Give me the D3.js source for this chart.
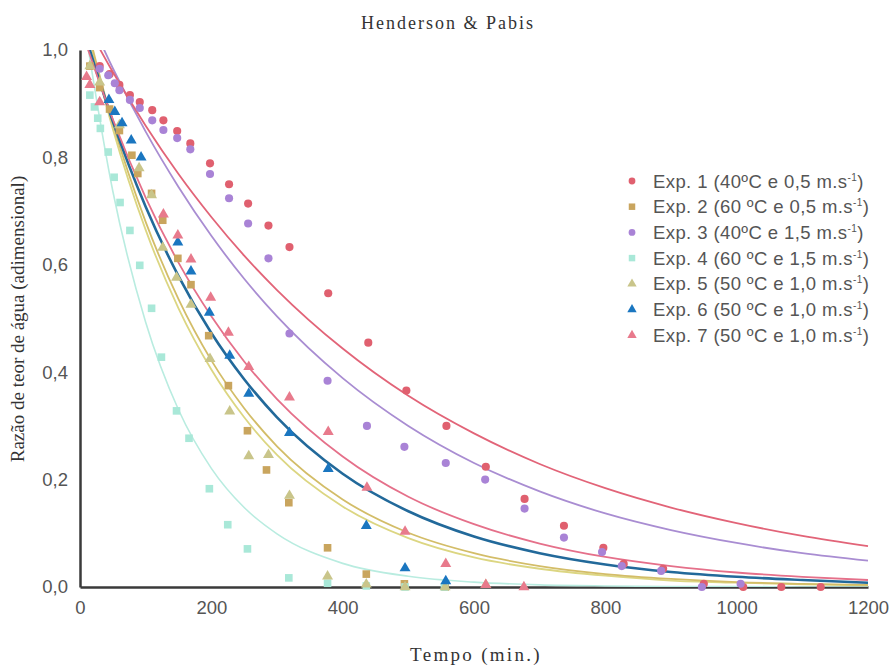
<!DOCTYPE html>
<html><head><meta charset="utf-8">
<script src="https://cdn.jsdelivr.net/npm/d3@7"></script>
<style>body{margin:0;background:#fff}</style>
</head><body>
<svg id="chart" width="895" height="667"></svg>
<script>
// ---------- data ----------
const seriesNames = ["Exp. 1", "Exp. 2", "Exp. 3", "Exp. 4", "Exp. 5", "Exp. 6", "Exp. 7"];
const legendLabels = [
  ["Exp. 1 (40ºC e 0,5 m.s", ")"],
  ["Exp. 2 (60 ºC e 0,5 m.s", ")"],
  ["Exp. 3 (40ºC e 1,5 m.s", ")"],
  ["Exp. 4 (60 ºC e 1,5 m.s", ")"],
  ["Exp. 5 (50 ºC e 1,0 m.s", ")"],
  ["Exp. 6 (50 ºC e 1,0 m.s", ")"],
  ["Exp. 7 (50 ºC e 1,0 m.s", ")"]
];
const xTicks = [0, 200, 400, 600, 800, 1000, 1200];
const yTicks = [0, 0.2, 0.4, 0.6, 0.8, 1.0];

// observed points (time in min, moisture ratio)
const exp1T = [30,45,60,76,91,110,127,148,168,198,227,256,287,319,378,439,497,558,618,677,737,797,828,888,950,1010,1068,1128];
const exp1V = [0.97,0.955,0.935,0.916,0.903,0.888,0.869,0.849,0.826,0.789,0.75,0.714,0.673,0.633,0.547,0.455,0.366,0.30,0.224,0.164,0.114,0.073,0.043,0.034,0.006,0.0,0.0,0.0];
const exp2T = [15,30,45,60,79,88,109,126,149,169,196,226,255,284,318,377,436,494,556];
const exp2V = [0.97,0.93,0.89,0.85,0.804,0.77,0.733,0.683,0.612,0.563,0.468,0.375,0.291,0.218,0.157,0.073,0.024,0.006,0.0];
const exp3T = [30,43,53,60,76,91,110,127,148,168,198,227,256,287,319,377,437,494,557,617,677,737,795,825,885,947,1006];
const exp3V = [0.965,0.953,0.938,0.925,0.907,0.892,0.869,0.851,0.836,0.815,0.769,0.724,0.677,0.612,0.472,0.384,0.30,0.261,0.231,0.20,0.146,0.092,0.065,0.039,0.03,0.0,0.006];
const exp4T = [15,22,27,31,43,52,61,76,91,109,124,147,166,197,225,255,318,377,436,495,555];
const exp4V = [0.916,0.894,0.873,0.854,0.81,0.763,0.716,0.664,0.599,0.519,0.428,0.328,0.277,0.183,0.116,0.071,0.017,0.007,0.002,0.0,0.0];
const exp5T = [15,30,60,90,109,126,147,169,198,228,257,287,319,377,436,495,556,618];
const exp5V = [0.97,0.94,0.86,0.78,0.73,0.632,0.576,0.526,0.425,0.327,0.244,0.246,0.17,0.02,0.005,0.0,0.0,0.004];
const exp6T = [44,53,64,78,93,149,169,197,228,257,319,378,436,495,557];
const exp6V = [0.907,0.885,0.864,0.832,0.80,0.642,0.588,0.511,0.431,0.36,0.287,0.22,0.114,0.035,0.011];
const exp7T = [10,15,30,127,149,169,199,226,257,319,378,437,495,557,618,676];
const exp7V = [0.95,0.935,0.903,0.694,0.655,0.61,0.539,0.474,0.41,0.353,0.289,0.185,0.103,0.043,0.004,0.0];

// fitted (Henderson & Pabis) curves
const curveT  = [0,50,100,150,200,250,300,400,500,600,700,800,900,1000,1100,1200];
const fit1V = [1.07,0.959,0.859,0.769,0.689,0.617,0.553,0.444,0.356,0.286,0.229,0.184,0.148,0.119,0.095,0.076];
const fit2V = [1.096,0.863,0.680,0.536,0.422,0.333,0.262,0.163,0.101,0.063,0.039,0.024,0.015,0.009,0.006,0.004];
const fit3V = [1.10,0.966,0.848,0.745,0.654,0.574,0.504,0.389,0.300,0.231,0.178,0.137,0.106,0.082,0.063,0.049];
const fit4V = [1.10,0.737,0.493,0.330,0.221,0.148,0.099,0.044,0.020,0.009,0.004,0.002,0.001,0.001,0.0,0.0];
const fit5V = [1.093,0.853,0.665,0.519,0.405,0.316,0.246,0.150,0.091,0.055,0.034,0.021,0.012,0.008,0.005,0.003];
const fit6V = [1.06,0.867,0.708,0.579,0.473,0.387,0.316,0.211,0.141,0.094,0.063,0.042,0.028,0.019,0.013,0.008];
const fit7V = [1.045,0.871,0.725,0.604,0.504,0.420,0.350,0.243,0.168,0.117,0.081,0.056,0.039,0.027,0.019,0.013];

// ---------- styles ----------
const markerColors = ["#e0606f", "#c9a55e", "#a983d6", "#a9e8d8", "#c9c58a", "#1a76c0", "#e87a8c"];
const lineColors   = ["#e26478", "#d3bd68", "#a98dd2", "#b9ece0", "#dcd682", "#22699a", "#e5708a"];
const lineWidths   = [1.8, 1.8, 1.8, 1.6, 1.8, 2.6, 1.8];
const shapes = ["circle", "square", "circle", "square", "triangle", "triangle", "triangle"];

const obsT = [exp1T, exp2T, exp3T, exp4T, exp5T, exp6T, exp7T];
const obsV = [exp1V, exp2V, exp3V, exp4V, exp5V, exp6V, exp7V];
const fitV = [fit1V, fit2V, fit3V, fit4V, fit5V, fit6V, fit7V];

const SERIF = "'Liberation Serif', 'Times New Roman', serif";
const SANS = "'Liberation Sans', Arial, sans-serif";

const svg = d3.select("#chart");
const L = 80, R = 868, T = 50, B = 587;
const x = d3.scaleLinear().domain([0, 1200]).range([L, R]);
const y = d3.scaleLinear().domain([0, 1]).range([B, T]);

svg.append("rect").attr("width", 895).attr("height", 667).attr("fill", "#fff");

svg.append("defs").append("clipPath").attr("id", "clip")
  .append("rect").attr("x", L).attr("y", T).attr("width", R - L + 2).attr("height", B - T);

// title
svg.append("text").attr("x", 448).attr("y", 29).attr("text-anchor", "middle")
  .attr("font-family", SERIF).attr("font-size", 18).attr("letter-spacing", 2)
  .attr("fill", "#333").text("Henderson & Pabis");

// axes
const fmt = d => d3.format(".1f")(d).replace(".", ",");
const yAxis = d3.axisLeft(y).tickValues(yTicks).tickFormat(fmt).tickSize(0).tickPadding(12);
const xAxis = d3.axisBottom(x).tickValues(xTicks).tickFormat(d3.format("d")).tickSize(0).tickPadding(14);

const gy = svg.append("g").attr("transform", `translate(${L},0)`).call(yAxis);
const gx = svg.append("g").attr("transform", `translate(0,${B})`).call(xAxis);
[gx, gy].forEach(g => {
  g.select(".domain").attr("stroke", "#3a3a3a").attr("stroke-width", 2.5);
  g.selectAll("text").attr("font-family", SANS)
    .attr("font-size", 18.5).attr("fill", "#555");
});

// axis titles
svg.append("text").attr("transform", "translate(24,319) rotate(-90)").attr("text-anchor", "middle")
  .attr("font-family", SERIF).attr("font-size", 19)
  .attr("fill", "#333").text("Razão de teor de água (adimensional)");
svg.append("text").attr("x", 476).attr("y", 661).attr("text-anchor", "middle")
  .attr("font-family", SERIF).attr("font-size", 19).attr("letter-spacing", 2.3)
  .attr("fill", "#333").text("Tempo (min.)");

// fitted curves
const line = d3.line().x(d => x(d[0])).y(d => y(d[1])).curve(d3.curveMonotoneX);
const curvesG = svg.append("g").attr("clip-path", "url(#clip)");
const drawOrder = [3, 4, 1, 5, 6, 2, 0];
drawOrder.forEach(i => {
  const pts = curveT.map((t, j) => [t, fitV[i][j]]);
  curvesG.append("path").datum(pts).attr("d", line).attr("fill", "none")
    .attr("stroke", lineColors[i]).attr("stroke-width", lineWidths[i]);
});

// markers
const sym = {
  circle: d3.symbol().type(d3.symbolCircle).size(52),
  square: d3.symbol().type(d3.symbolSquare).size(58),
  triangle: d3.symbol().type(d3.symbolTriangle).size(52)
};
const pointsG = svg.append("g");
[0, 2, 1, 3, 4, 5, 6].forEach(i => {
  const pts = obsT[i].map((t, j) => [t, obsV[i][j]]);
  pointsG.append("g").selectAll("path").data(pts).join("path")
    .attr("d", sym[shapes[i]]())
    .attr("transform", d => `translate(${x(d[0])},${y(d[1])})`)
    .attr("fill", markerColors[i]);
});

// legend
const lg = svg.append("g").attr("transform", "translate(632,181)");
seriesNames.forEach((n, i) => {
  const row = lg.append("g").attr("transform", `translate(0,${i * 25.7})`);
  const s = shapes[i] === "circle" ? d3.symbol().type(d3.symbolCircle).size(36)
          : shapes[i] === "square" ? d3.symbol().type(d3.symbolSquare).size(42)
          : d3.symbol().type(d3.symbolTriangle).size(38);
  row.append("path").attr("d", s()).attr("fill", markerColors[i]);
  const tx = row.append("text").attr("x", 21).attr("y", 6.5)
    .attr("font-family", SANS).attr("font-size", 18.5).attr("letter-spacing", 0.4).attr("fill", "#555");
  tx.append("tspan").text(legendLabels[i][0]);
  tx.append("tspan").attr("font-size", 10).attr("dy", -7).text("-1");
  tx.append("tspan").attr("dy", 7).text(legendLabels[i][1]);
});
</script>
</body></html>
